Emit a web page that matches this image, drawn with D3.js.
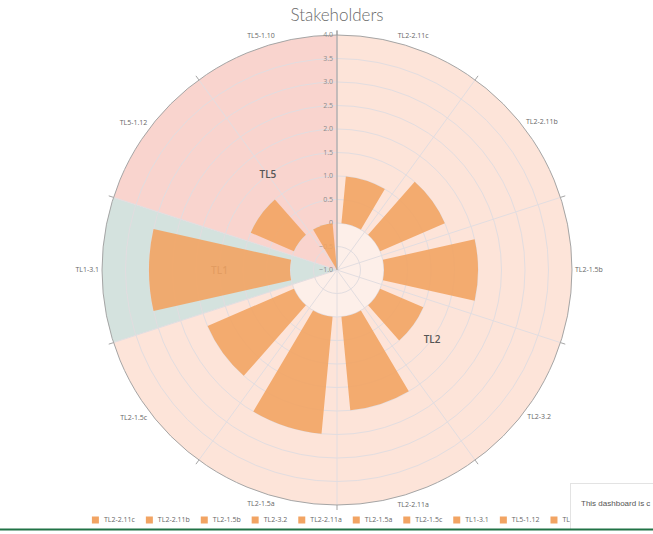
<!DOCTYPE html>
<html lang="en">
<head>
<meta charset="UTF-8">
<title>Stakeholders</title>
<script src="https://d3js.org/d3.v7.min.js"></script>
<style>
  body { margin: 0; background: #fff; overflow: hidden; }
  text { font-family: "Open Sans", sans-serif; }
</style>
</head>
<body>
<div id="chart"></div>
<script>
// data
var categories = ["TL2-2.11c", "TL2-2.11b", "TL2-1.5b", "TL2-3.2", "TL2-2.11a",
                  "TL2-1.5a", "TL2-1.5c", "TL1-3.1", "TL5-1.12", "TL5-1.10"];
var values = [1.0, 1.5, 2.0, 1.0, 2.0, 2.5, 2.0, 3.0, 1.0, -1.0];
var groupNames = ["TL2", "TL1", "TL5"];
var groupColors = ["#fde4d9", "#d4e2de", "#f9d4ce"];
var radialTicks = [-1, -0.5, 0, 0.5, 1, 1.5, 2, 2.5, 3, 3.5, 4];

var width = 653, height = 534,
    cx = 337, cy = 270, outer = 235;

var svg = d3.select('#chart').append('svg')
  .attr('width', width)
  .attr('height', height);

svg.append('text')
  .attr('x', cx)
  .attr('y', 21)
  .attr('text-anchor', 'middle')
  .style('font-family', 'Lato, sans-serif')
  .style('font-size', '17px')
  .style('font-weight', 300)
  .style('fill', '#6a6a6a')
  .text('Stakeholders');

var g = svg.append('g')
  .attr('transform', 'translate(' + cx + ',' + cy + ')');

var x = d3.scaleBand()
  .domain(categories)
  .range([0, 2 * Math.PI])
  .paddingInner(0.3)
  .paddingOuter(0.15);
var step = x.step();

var r = d3.scaleLinear()
  .domain([-1, 4])
  .range([0, outer]);

var arc = d3.arc();

function px(rad, a) { return rad * Math.sin(a); }
function py(rad, a) { return -rad * Math.cos(a); }

// group bands
var groups = groupNames.map(function(name, k) {
  var idx = [];
  categories.forEach(function(c, i) { if (c.indexOf(name + '-') === 0) idx.push(i); });
  return { name: name, color: groupColors[k],
           start: d3.min(idx) * step, end: (d3.max(idx) + 1) * step };
});

g.selectAll('path.band').data(groups)
  .enter().append('path')
  .attr('class', 'band')
  .attr('d', function(d) {
    return arc({ innerRadius: 0, outerRadius: outer, startAngle: d.start, endAngle: d.end });
  })
  .style('fill', function(d) { return d.color; });

// lighter hole for the first group
g.append('path')
  .attr('d', arc({ innerRadius: 0, outerRadius: r(0), startAngle: groups[0].start, endAngle: groups[0].end }))
  .style('fill', '#fdefe9');

// grid circles
g.selectAll('circle.grid').data(radialTicks.filter(function(t) { return t > -1 && t < 4; }))
  .enter().append('circle')
  .attr('class', 'grid')
  .attr('r', function(d) { return r(d); })
  .style('fill', 'none')
  .style('stroke', '#e2dde0')
  .style('stroke-width', 1);

// radial lines + outer ticks
g.selectAll('line.spoke').data(categories)
  .enter().append('line')
  .attr('class', 'spoke')
  .attr('x1', 0).attr('y1', 0)
  .attr('x2', function(d, i) { return px(outer, i * step); })
  .attr('y2', function(d, i) { return py(outer, i * step); })
  .style('stroke', '#e2dde0');

g.selectAll('line.tick').data(categories)
  .enter().append('line')
  .attr('class', 'tick')
  .attr('x1', function(d, i) { return px(outer, i * step); })
  .attr('y1', function(d, i) { return py(outer, i * step); })
  .attr('x2', function(d, i) { return px(outer + 5, i * step); })
  .attr('y2', function(d, i) { return py(outer + 5, i * step); })
  .style('stroke', '#a5a5a5');

g.append('circle')
  .attr('r', outer)
  .style('fill', 'none')
  .style('stroke', '#a5a5a5');

// value labels on the axis
g.selectAll('text.ytick').data(radialTicks)
  .enter().append('text')
  .attr('class', 'ytick')
  .attr('x', -4)
  .attr('y', function(d) { return -r(d); })
  .attr('dy', '0.35em')
  .attr('text-anchor', 'end')
  .style('font-size', '7px')
  .style('fill', '#8c8c8c')
  .text(function(d) { return d === 0 ? '0' : d3.format('.1f')(d); });

// group labels
g.selectAll('text.group').data(groups)
  .enter().append('text')
  .attr('class', 'group')
  .attr('x', function(d) { return px(r(1.5), (d.start + d.end) / 2); })
  .attr('y', function(d) { return py(r(1.5), (d.start + d.end) / 2); })
  .attr('dy', '0.35em')
  .attr('text-anchor', 'middle')
  .style('font-size', '10px')
  .style('font-weight', 600)
  .style('fill', '#555')
  .text(function(d) { return d.name; });

// bars
g.selectAll('path.bar').data(values)
  .enter().append('path')
  .attr('class', 'bar')
  .attr('d', function(d, i) {
    return arc({
      innerRadius: r(Math.min(0, d)),
      outerRadius: r(Math.max(0, d)),
      startAngle: x(categories[i]),
      endAngle: x(categories[i]) + x.bandwidth()
    });
  })
  .style('fill', '#f2a463')
  .style('opacity', 0.9);

// axis line
g.append('line')
  .attr('x1', 0).attr('y1', 0)
  .attr('x2', 0).attr('y2', -outer - 4)
  .style('stroke', '#9a9a9a');

// category labels
g.selectAll('text.cat').data(categories)
  .enter().append('text')
  .attr('class', 'cat')
  .attr('text-anchor', 'middle')
  .attr('dy', '0.35em')
  .style('font-size', '7px')
  .style('fill', '#666')
  .text(function(d) { return d; })
  .each(function(d) {
    var a = x(d) + x.bandwidth() / 2;
    var w = this.getComputedTextLength();
    var dist = 238 + (w / 2) * Math.abs(Math.sin(a)) + 4 * Math.abs(Math.cos(a));
    d3.select(this).attr('x', px(dist, a)).attr('y', py(dist, a));
  });

// legend
var legend = svg.append('g');
var lx = 0;
var items = legend.selectAll('g').data(categories)
  .enter().append('g');
items.append('rect')
  .attr('width', 7).attr('height', 7)
  .attr('y', -3.5)
  .style('fill', '#f2a463');
items.append('text')
  .attr('x', 12)
  .attr('dy', '0.35em')
  .style('font-size', '7px')
  .style('fill', '#666')
  .text(function(d) { return d; });
items.each(function() {
  var w = d3.select(this).select('text').node().getComputedTextLength();
  d3.select(this).attr('transform', 'translate(' + lx + ',0)');
  lx += 12 + w + 11;
});
legend.attr('transform', 'translate(' + (cx + 4 - (lx - 11) / 2) + ',520)');

// notification box bottom right
svg.append('rect')
  .attr('x', 570.5).attr('y', 483.5)
  .attr('width', 100).attr('height', 46)
  .style('fill', '#fff')
  .style('stroke', '#e3e3e3');
svg.append('text')
  .attr('x', 581).attr('y', 506)
  .style('font-family', '"Liberation Sans", Arial, sans-serif')
  .style('font-size', '8px')
  .style('fill', '#555')
  .text('This dashboard is c');

svg.append('rect')
  .attr('x', 0).attr('y', 528.5)
  .attr('width', width).attr('height', 2)
  .style('fill', '#217346');
</script>
</body>
</html>
